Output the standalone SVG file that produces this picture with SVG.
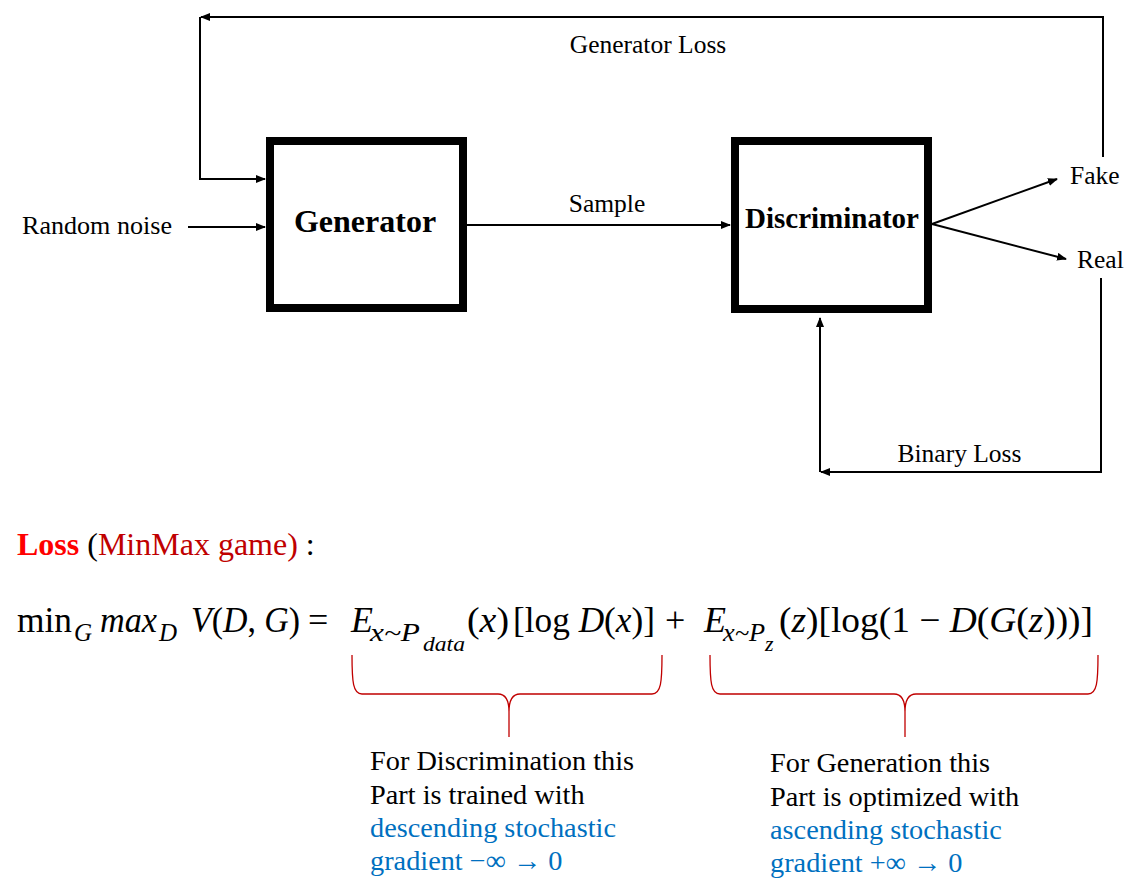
<svg xmlns="http://www.w3.org/2000/svg" width="1148" height="888" viewBox="0 0 1148 888">
<defs>
<marker id="ah" markerUnits="userSpaceOnUse" markerWidth="10" markerHeight="8" refX="9" refY="4" orient="auto">
<path d="M0,0 L10,4 L0,8 z" fill="#000"/>
</marker>
<style>
.t{font-family:"Liberation Serif","Times New Roman",serif;font-size:25.5px;fill:#000}
.b{font-family:"Liberation Serif","Times New Roman",serif;font-weight:bold;fill:#000}
.box{fill:#fff;stroke:#000;stroke-width:8}
.c{fill:none;stroke:#000;stroke-width:2;marker-end:url(#ah)}
.eq{font-family:"Liberation Serif","Times New Roman",serif;font-size:36px;fill:#000}
.sub{font-family:"Liberation Serif","Times New Roman",serif;font-size:25px;font-style:italic;fill:#000}
.ssub{font-family:"Liberation Serif","Times New Roman",serif;font-size:22px;font-style:italic;fill:#000}
.i{font-style:italic}
.brace{fill:none;stroke:#C00000;stroke-width:1.3}
.n{font-family:"Liberation Serif","Times New Roman",serif;font-size:28.3px;fill:#000}
.bl{fill:#0070C0}
</style>
</defs>
<rect width="1148" height="888" fill="#fff"/>

<g id="connectors">
<path class="c" d="M1103,157 V17 H201"/>
<path class="c" d="M200,17 V179 H265"/>
<path class="c" d="M188,227 H265"/>
<path class="c" d="M467,225 H730"/>
<path class="c" d="M932,224 L1057,179"/>
<path class="c" d="M932,224 L1066,259"/>
<path class="c" d="M1101,278 V472 H821"/>
<path class="c" d="M820,472 V318"/>
</g>

<g id="generator">
<rect class="box" x="270" y="141" width="193" height="167"/>
<text class="b" x="365" y="232" font-size="32" text-anchor="middle">Generator</text>
</g>
<g id="discriminator">
<rect class="box" x="735" y="141" width="193" height="168"/>
<text class="b" x="832" y="228" font-size="29" text-anchor="middle">Discriminator</text>
</g>

<g id="labels">
<text class="t" x="22" y="234" textLength="150" lengthAdjust="spacingAndGlyphs">Random noise</text>
<text class="t" x="607" y="212" text-anchor="middle">Sample</text>
<text class="t" x="648" y="53" text-anchor="middle">Generator Loss</text>
<text class="t" x="1070" y="184">Fake</text>
<text class="t" x="1077" y="268">Real</text>
<text class="t" x="959.5" y="462" text-anchor="middle">Binary Loss</text>
</g>

<g id="loss-title">
<text x="17" y="555" font-family="'Liberation Serif','Times New Roman',serif" font-size="32"><tspan font-weight="bold" fill="#FF0000">Loss</tspan><tspan fill="#000"> (</tspan><tspan fill="#C00000">MinMax game)</tspan><tspan fill="#000"> :</tspan></text>
</g>

<g id="equation">
<text class="eq" x="17" y="632" textLength="55" lengthAdjust="spacingAndGlyphs">min</text>
<text class="sub" x="74" y="641">G</text>
<text class="eq i" x="100" y="632" textLength="57" lengthAdjust="spacingAndGlyphs">max</text>
<text class="sub" x="159" y="641">D</text>
<text class="eq" x="191" y="632" textLength="109" lengthAdjust="spacingAndGlyphs"><tspan class="i">V</tspan>(<tspan class="i">D</tspan>, <tspan class="i">G</tspan>)</text>
<text class="eq" x="308" y="632">=</text>
<text class="eq i" x="351" y="632">E</text>
<text class="sub" x="370" y="641" textLength="50" lengthAdjust="spacingAndGlyphs">x~P</text>
<text class="ssub" x="423" y="651" textLength="42" lengthAdjust="spacingAndGlyphs">data</text>
<text class="eq" x="467" y="632" textLength="42" lengthAdjust="spacingAndGlyphs">(<tspan class="i">x</tspan>)</text>
<text class="eq" x="513" y="632" textLength="142" lengthAdjust="spacingAndGlyphs">[log <tspan class="i">D</tspan>(<tspan class="i">x</tspan>)]</text>
<text class="eq" x="665" y="632">+</text>
<text class="eq i" x="704" y="632">E</text>
<text class="sub" x="723" y="641" textLength="42" lengthAdjust="spacingAndGlyphs">x~P</text>
<text class="ssub" x="765" y="651">z</text>
<text class="eq" x="779" y="632" textLength="314" lengthAdjust="spacingAndGlyphs">(<tspan class="i">z</tspan>)[log(1 − <tspan class="i">D</tspan>(<tspan class="i">G</tspan>(<tspan class="i">z</tspan>)))]</text>
</g>

<g id="braces">
<path class="brace" d="M352,655 C352,682 353,694 362,694 L498,694 C505,694 509,699 509,712 L509,737 M509,712 C509,699 513,694 520,694 L652,694 C661,694 662,682 662,655"/>
<path class="brace" d="M710,655 C710,682 711,694 720,694 L894,694 C901,694 905,699 905,712 L905,737 M905,712 C905,699 909,694 916,694 L1088,694 C1097,694 1098,682 1098,655"/>
</g>

<g id="note-discrimination">
<text class="n" x="370" y="770">For Discrimination this</text>
<text class="n" x="370" y="804">Part is trained with</text>
<text class="n bl" x="370" y="837">descending stochastic</text>
<text class="n bl" x="370" y="870">gradient −∞ → 0</text>
</g>
<g id="note-generation">
<text class="n" x="770" y="772">For Generation this</text>
<text class="n" x="770" y="806">Part is optimized with</text>
<text class="n bl" x="770" y="839">ascending stochastic</text>
<text class="n bl" x="770" y="872">gradient +∞ → 0</text>
</g>
</svg>
